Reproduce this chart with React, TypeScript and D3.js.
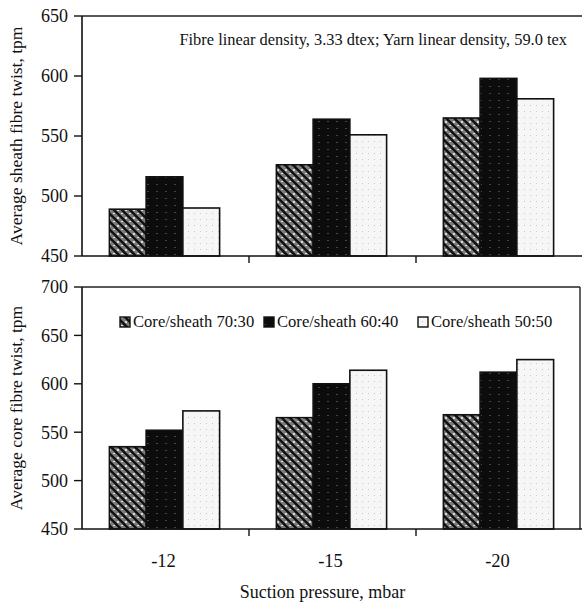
import React from 'react'
import * as d3 from 'd3'

const pressures = ['-12', '-15', '-20']
const seriesNames = ['Core/sheath 70:30', 'Core/sheath 60:40', 'Core/sheath 50:50']
const sheathTwist = [
  [489, 526, 565],
  [516, 564, 598],
  [490, 551, 581],
]
const coreTwist = [
  [535, 565, 568],
  [552, 600, 612],
  [572, 614, 625],
]
const sheathTicks = [450, 500, 550, 600, 650]
const coreTicks = [450, 500, 550, 600, 650, 700]

const W = 582
const H = 602
const left = 82
const font = '"Liberation Serif", "DejaVu Serif", serif'
const fills = ['url(#hatch)', 'url(#dark)', 'url(#light)']

const x = d3.scaleBand<string>().domain(pressures).range([left, left + 167 * 3]).padding(0)

function Panel({ top, bottom, ticks, values, label, frameRight }) {
  const y = d3
    .scaleLinear()
    .domain([ticks[0], ticks[ticks.length - 1]])
    .range([bottom, top])
  const groupW = x.bandwidth() * 0.66
  const inner = d3.scaleBand<number>().domain([0, 1, 2]).range([0, groupW])
  return (
    <g>
      {values.map((row, s) =>
        row.map((v, i) => {
          const x0 = x(pressures[i]) + (x.bandwidth() - groupW) / 2 - 1 + inner(s)
          return (
            <rect
              key={s + '-' + i}
              x={x0}
              y={y(v)}
              width={inner.bandwidth()}
              height={y(ticks[0]) - y(v)}
              fill={fills[s]}
              stroke="#111"
              strokeWidth={1.6}
            />
          )
        })
      )}
      <line x1={left} x2={frameRight} y1={top} y2={top} stroke="#222" strokeWidth={1.4} />
      {frameRight < W && (
        <line x1={frameRight} x2={frameRight} y1={top} y2={bottom} stroke="#222" strokeWidth={1.4} />
      )}
      <line x1={left} x2={left} y1={top} y2={bottom} stroke="#111" strokeWidth={1.6} />
      <line x1={left} x2={W + 5} y1={bottom} y2={bottom} stroke="#111" strokeWidth={1.6} />
      {ticks.map(t => (
        <g key={t}>
          <line x1={left - 8} x2={left} y1={y(t)} y2={y(t)} stroke="#111" strokeWidth={1.4} />
          <text x={left - 14} y={y(t)} dy="0.35em" textAnchor="end" fontSize={18}>
            {t}
          </text>
        </g>
      ))}
      {pressures.slice(1).map(p => (
        <line key={p} x1={x(p)} x2={x(p)} y1={bottom} y2={bottom + 7} stroke="#111" strokeWidth={1.4} />
      ))}
      <text
        transform={`translate(22,${(top + bottom) / 2}) rotate(-90)`}
        textAnchor="middle"
        fontSize={17.5}
      >
        {label}
      </text>
    </g>
  )
}

export default function App() {
  const legendX = [120, 264, 418]
  return (
    <svg width={W} height={H} style={{ position: 'absolute', left: 0, top: 0 }} fontFamily={font} fill="#111">
      <defs>
        <pattern id="hatch" width="8" height="8" patternUnits="userSpaceOnUse">
          <rect width="8" height="8" fill="#7e7e7e" />
          <rect x="1" y="5" width="2" height="1" fill="#e0e0e0" />
          <rect x="5" y="1" width="2" height="2" fill="#d8d8d8" />
          <path d="M-2,-2 L10,10 M-2,6 L2,10 M6,-2 L10,2" stroke="#111" strokeWidth="2.4" />
        </pattern>
        <pattern id="dark" width="9" height="7" patternUnits="userSpaceOnUse">
          <rect width="9" height="7" fill="#0c0c0c" />
          <rect x="3" y="2" width="2" height="1" fill="#444" />
        </pattern>
        <pattern id="light" width="6" height="6" patternUnits="userSpaceOnUse">
          <rect width="6" height="6" fill="#f6f6f6" />
          <rect x="2" y="3" width="1" height="1" fill="#c8c8c8" />
        </pattern>
      </defs>
      <rect width={W} height={H} fill="#fff" />
      <Panel
        top={16}
        bottom={256}
        ticks={sheathTicks}
        values={sheathTwist}
        label="Average sheath fibre twist, tpm"
        frameRight={W + 5}
      />
      <text x={567} y={45} textAnchor="end" fontSize={16.4}>
        Fibre linear density, 3.33 dtex; Yarn linear density, 59.0 tex
      </text>
      <Panel
        top={287}
        bottom={529}
        ticks={coreTicks}
        values={coreTwist}
        label="Average core fibre twist, tpm"
        frameRight={580}
      />
      {seriesNames.map((n, s) => (
        <g key={n}>
          <rect x={legendX[s]} y={317} width={10} height={10} fill={fills[s]} stroke="#111" strokeWidth={1.4} />
          <text x={legendX[s] + 13} y={327} fontSize={16.6}>
            {n}
          </text>
        </g>
      ))}
      {pressures.map(p => (
        <text key={p} x={x(p) + x.bandwidth() / 2 - 2} y={567} textAnchor="middle" fontSize={18.5}>
          {p}
        </text>
      ))}
      <text x={x('-15') + x.bandwidth() / 2 - 10} y={598} textAnchor="middle" fontSize={18}>
        Suction pressure, mbar
      </text>
    </svg>
  )
}
